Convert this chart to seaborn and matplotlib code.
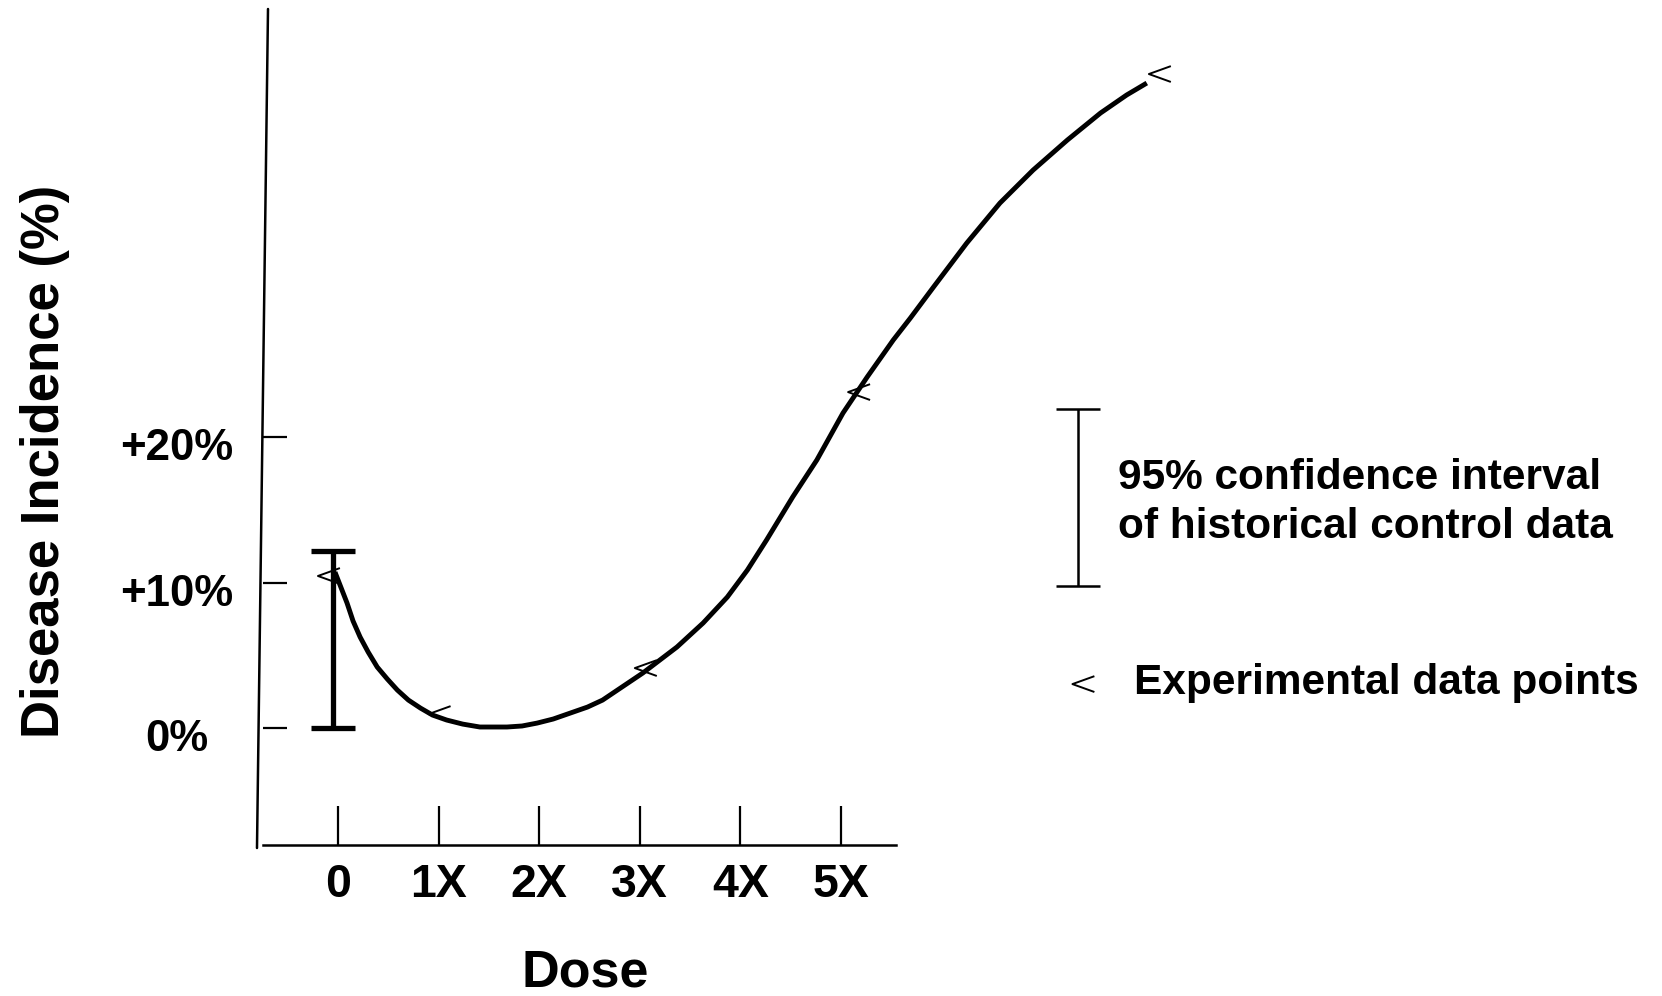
import seaborn as sns
import matplotlib.pyplot as plt
import matplotlib.transforms as mtransforms
from matplotlib.path import Path

# dose-response curve (dose multiple, incidence %)
curve_dose = [-0.03, 0.09, 0.15, 0.22, 0.30, 0.39, 0.49, 0.59, 0.70, 0.82,
              0.94, 1.08, 1.24, 1.41, 1.68, 1.83, 1.98, 2.14, 2.31, 2.48,
              2.63, 3.03, 3.37, 3.63, 3.87, 4.07, 4.26, 4.52, 4.76, 5.02,
              5.26, 5.52, 5.69, 5.92, 6.25, 6.58, 6.91, 7.25, 7.58, 7.84, 8.04]
curve_pct = [10.72, 8.59, 7.35, 6.25, 5.22, 4.19, 3.37, 2.61, 1.92, 1.37,
             0.89, 0.55, 0.27, 0.07, 0.07, 0.14, 0.34, 0.62, 1.03, 1.44,
             1.92, 3.78, 5.57, 7.22, 9.00, 10.86, 12.92, 15.88, 18.42, 21.65,
             24.12, 26.67, 28.18, 30.31, 33.33, 36.08, 38.35, 40.41, 42.27, 43.51, 44.33]

# experimental data points
point_dose = [-0.09, 1.01, 3.06, 5.18, 8.17]
point_pct = [10.45, 0.96, 4.12, 23.09, 44.95]

# historical control 95% CI
ci_dose = -0.05
ci_low, ci_high = 0.0, 12.2

dose_ticks = [0, 1, 2, 3, 4, 5]
dose_labels = ['0', '1X', '2X', '3X', '4X', '5X']
pct_ticks = [0, 10, 20]
pct_labels = ['0%', '+10%', '+20%']

sns.set_style('white')
plt.rcParams['font.family'] = ['Liberation Sans', 'DejaVu Sans']
plt.rcParams['font.weight'] = 'bold'
plt.rcParams['text.color'] = 'black'
plt.rcParams['axes.labelcolor'] = 'black'

# open chevron used as the data point symbol
chevron = Path([(0.5, 0.36), (-0.5, 0.0), (0.5, -0.36)],
               [Path.MOVETO, Path.LINETO, Path.LINETO])

fig = plt.figure(figsize=(16.62, 9.96), dpi=100)
ax = fig.add_axes([263 / 1662, 151 / 996, 633 / 1662, 836 / 996])

sns.lineplot(x=curve_dose, y=curve_pct, sort=False, color='black', linewidth=3.5,
             solid_joinstyle='round', solid_capstyle='butt', ax=ax)
sns.scatterplot(x=point_dose, y=point_pct, marker=chevron, s=250,
                facecolors='none', edgecolor='black', linewidth=1.4, ax=ax)

ax.errorbar([ci_dose], [(ci_low + ci_high) / 2], yerr=[(ci_high - ci_low) / 2],
            fmt='none', ecolor='black', elinewidth=3.8, capsize=16, capthick=3.8)

ax.set_xlim(-0.7455, 5.547)
ax.set_ylim(-8.04, 49.42)

for spine in ['top', 'right', 'left']:
    ax.spines[spine].set_visible(False)
ax.spines['bottom'].set_linewidth(1.8)
ax.spines['bottom'].set_color('black')
# slightly slanted hand-drawn y axis
ax.plot([0.0079, -0.0095], [1.0, -0.0036], transform=ax.transAxes,
        color='black', lw=1.8, clip_on=False)

ax.set_xticks(dose_ticks)
ax.set_xticklabels(dose_labels)
ax.set_yticks(pct_ticks)
ax.set_yticklabels(pct_labels)
ax.tick_params(axis='x', direction='in', length=28, width=1.6, pad=13,
               labelsize=33.5, colors='black', bottom=True)
ax.tick_params(axis='y', direction='in', length=17.5, width=1.6, pad=62,
               labelsize=31.5, colors='black', left=True)
shift = mtransforms.ScaledTranslation(0, -0.07, fig.dpi_scale_trans)
for lab in ax.get_yticklabels():
    lab.set_horizontalalignment('center')
    lab.set_transform(lab.get_transform() + shift)
ax.set_xlabel('')
ax.set_ylabel('')

for art in ax.lines + ax.collections:
    art.set_clip_on(False)

fig.text(45 / 1662, 1 - 461 / 996, 'Disease Incidence (%)', rotation=90,
         ha='center', va='center', fontsize=38, fontweight='bold', color='black')
fig.text(585 / 1662, 1 - 986 / 996, 'Dose', ha='center', va='baseline',
         fontsize=37.5, fontweight='bold', color='black')

# legend drawn by hand on the right
ax.errorbar([7.36], [15.84], yerr=[6.08], fmt='none', ecolor='black',
            elinewidth=1.8, capsize=16, capthick=1.8, clip_on=False)
ax.text(7.75, 16.43, '95% confidence interval', ha='left', va='baseline',
        fontsize=30.5, fontweight='bold', clip_on=False)
ax.text(7.75, 13.06, 'of historical control data', ha='left', va='baseline',
        fontsize=30.5, fontweight='bold', clip_on=False)
ax.scatter([7.41], [3.02], marker=chevron, s=250, facecolors='none',
           edgecolors='black', linewidth=1.4, clip_on=False)
ax.text(7.91, 2.34, 'Experimental data points', ha='left', va='baseline',
        fontsize=30.5, fontweight='bold', clip_on=False)

plt.savefig('out.png', dpi=100)
plt.close()
